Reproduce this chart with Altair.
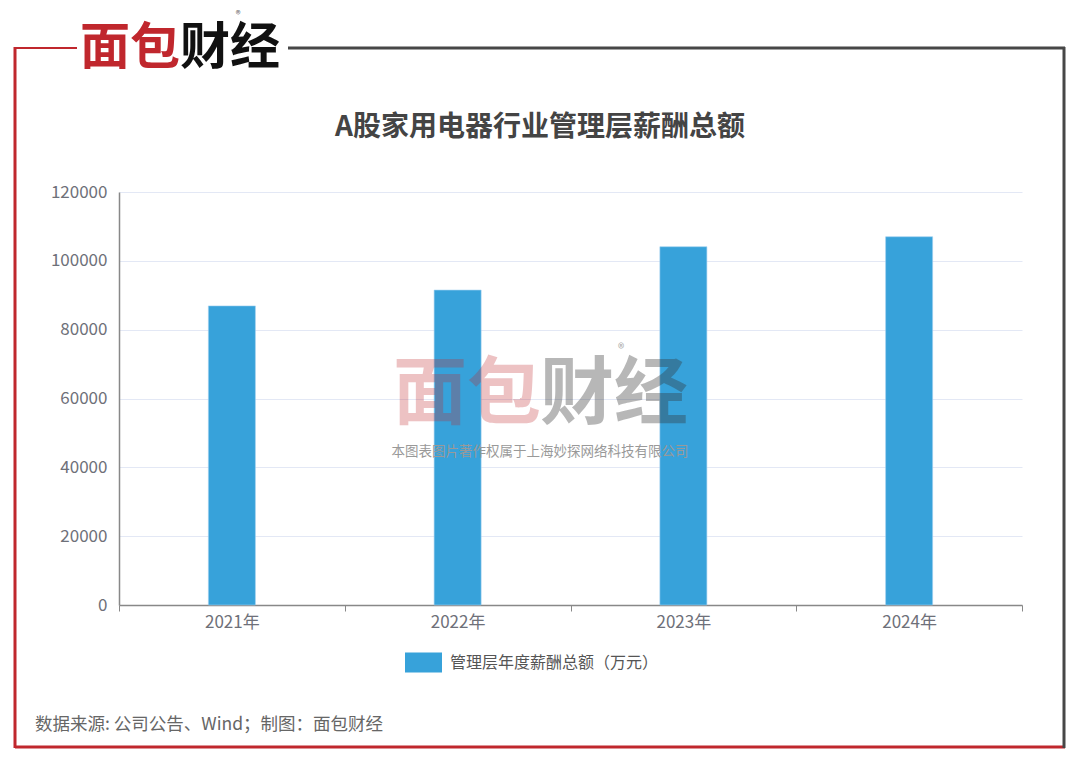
import altair as alt
import pandas as pd

years = ["2021年", "2022年", "2023年", "2024年"]
values = [86900, 91500, 104100, 107000]
series_name = "管理层年度薪酬总额（万元）"
y_ticks = [0, 20000, 40000, 60000, 80000, 100000, 120000]

FONT = "Noto Sans CJK SC"
LABEL = "#6e7079"
df = pd.DataFrame({"year": years, "value": values, "series": [series_name] * len(years)})
one = pd.DataFrame({"k": [0]})

W, H = 903, 413
L, T = 111, 184

bars = alt.Chart(df).mark_bar(width=47, stroke="#9fd0f0", strokeWidth=0.6).encode(
    x=alt.X("year:N", sort=years, title=None,
            scale=alt.Scale(paddingInner=0, paddingOuter=0),
            axis=alt.Axis(labelAngle=0, tickBand="extent", labelFontSize=17,
                          labelColor=LABEL, labelFont=FONT, tickColor="#888",
                          domainColor="#888", domainWidth=1.5, tickSize=6,
                          labelPadding=3, grid=False)),
    y=alt.Y("value:Q", title=None, scale=alt.Scale(domain=[0, 120000]),
            axis=alt.Axis(values=y_ticks, format="d", labelFontSize=17,
                          labelColor=LABEL, labelFont=FONT, ticks=False,
                          domainColor="#888", domainWidth=1.5, labelPadding=12,
                          gridColor="#e3e8f5", gridWidth=1)),
    color=alt.Color("series:N", scale=alt.Scale(range=["#37a2da"]),
                    legend=alt.Legend(title=None, orient="none", legendX=286, legendY=452,
                                      symbolType="M-1,-0.54L1,-0.54L1,0.54L-1,0.54Z",
                                      symbolSize=1369, symbolStrokeWidth=0,
                                      labelFontSize=16, labelColor="#555", labelFont=FONT,
                                      labelOffset=8, labelLimit=400, padding=0)),
)


def rule(x1, x2, y1, y2, color, w):
    return alt.Chart(one).mark_rule(color=color, strokeWidth=w).encode(
        x=alt.value(x1 - 119), x2=alt.value(x2 - 119),
        y=alt.value(y1 - 192), y2=alt.value(y2 - 192))


def text(t, x, y, size, color, bold=False, align="center", opacity=1.0):
    return alt.Chart(one).mark_text(text=t, fontSize=size, color=color, font=FONT,
                                    fontWeight="bold" if bold else "normal",
                                    align=align, baseline="middle", opacity=opacity).encode(
        x=alt.value(x - 119), y=alt.value(y - 192))


RED = "#c0272d"
DARK = "#474747"
frame = [
    rule(15, 15, 47, 748, RED, 3),
    rule(15, 1065, 747, 747, RED, 3),
    rule(15, 77, 48, 48, RED, 2),
    rule(288, 1065, 48, 48, DARK, 3),
    rule(1064, 1064, 47, 748, DARK, 3),
]

decor = [
    text("面包", 130, 49, 50, RED, bold=True),
    text("财经", 230, 49, 50, "#111", bold=True),
    text("®", 238, 15, 10, "#666"),
    text("面包", 467, 396, 74, RED, bold=True, opacity=0.28),
    text("财经", 614, 396, 74, "#333", bold=True, opacity=0.35),
    text("®", 621, 349, 13, "#aaa"),
    text("本图表图片著作权属于上海妙探网络科技有限公司", 540, 452, 13.5, "#999"),
    text("A股家用电器行业管理层薪酬总额", 540, 128, 28, "#444", bold=True),
    text("数据来源: 公司公告、Wind；制图：面包财经", 35, 725, 17.5, "#666", align="left"),
]

chart = alt.layer(*frame, bars, *decor).properties(
    width=W, height=H,
    background="white",
    padding={"left": L, "top": T, "right": 50, "bottom": 150},
    autosize=alt.AutoSizeParams(type="none"),
).configure_view(stroke=None)

chart.save("out.html", embed_options={"renderer": "svg", "actions": False})
